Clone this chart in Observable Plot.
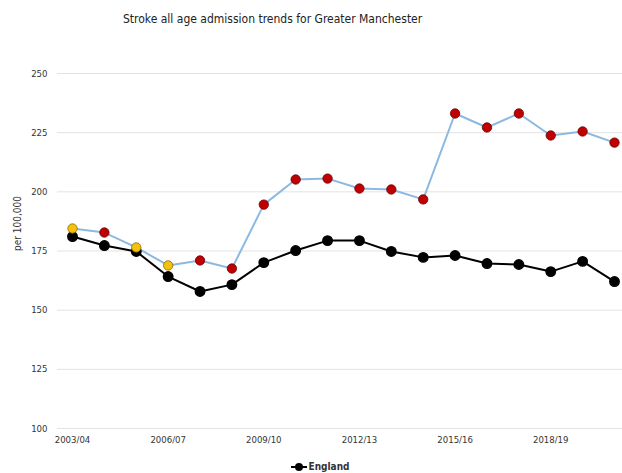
<!DOCTYPE html>
<html>
<head>
<meta charset="utf-8">
<script src="https://cdn.jsdelivr.net/npm/d3@7"></script>
<script src="https://cdn.jsdelivr.net/npm/@observablehq/plot@0.6"></script>
<style>
  body { margin: 0; background: #fff; font-family: "DejaVu Sans", sans-serif; }
  #title { height: 36px; width: 499px; padding-left: 123px; text-align: left; font-size: 12px; font-stretch: condensed; line-height: 38px; color: #222; white-space: nowrap; }
  #legend { width: 640px; text-align: center; font-size: 10px; font-weight: bold; font-stretch: condensed; color: #333; height: 23px; line-height: 33px; }
  #legend svg { vertical-align: middle; margin-right: 2px; }
</style>
</head>
<body>
<div id="title">Stroke all age admission trends for Greater Manchester</div>
<div id="chart"></div>
<div id="legend"><svg width="16" height="10"><line x1="0" y1="5" x2="16" y2="5" stroke="#000" stroke-width="2"/><circle cx="8" cy="5" r="4" fill="#000"/></svg>England</div>
<script>
const years = ["2003/04","2004/05","2005/06","2006/07","2007/08","2008/09","2009/10","2010/11","2011/12","2012/13","2013/14","2014/15","2015/16","2016/17","2017/18","2018/19","2019/20","2020/21"];
const gmValues = [184.5,182.8,176.5,168.9,171.0,167.6,194.6,205.2,205.6,201.4,201.0,196.8,233.1,227.2,233.1,223.8,225.5,220.8];
const gmSignificance = ["similar","higher","similar","similar","higher","higher","higher","higher","higher","higher","higher","higher","higher","higher","higher","higher","higher","higher"];
const englandValues = [181.1,177.3,174.8,164.2,157.9,160.8,170.1,175.2,179.4,179.4,174.8,172.3,173.1,169.7,169.3,166.3,170.6,162.1];
const xTickLabels = ["2003/04","2006/07","2009/10","2012/13","2015/16","2018/19"];
const yTicks = [100,125,150,175,200,225,250];

const gm = years.map((y, i) => ({year: y, value: gmValues[i], sig: gmSignificance[i]}));
const eng = years.map((y, i) => ({year: y, value: englandValues[i]}));

const chart = Plot.plot({
  width: 622,
  height: 414,
  marginLeft: 57,
  marginRight: 0,
  marginTop: 37,
  marginBottom: 22,
  style: {fontFamily: "DejaVu Sans, sans-serif", fontSize: "9.5px", fontStretch: "condensed", color: "#333", overflow: "visible"},
  x: {type: "point", domain: years, range: [72, 614], padding: 0, round: false},
  y: {domain: [100, 250]},
  color: {domain: ["similar","higher"], range: ["#f4c20d","#c00000"]},
  marks: [
    Plot.ruleY(yTicks, {stroke: "#e3e3e3", strokeWidth: 1}),
    Plot.axisY({ticks: yTicks, tickSize: 0, tickPadding: 10, label: null, fill: "#333"}),
    Plot.text(["per 100,000"], {frameAnchor: "left", dx: -40, rotate: -90, fill: "#333", fontSize: 10}),
    Plot.axisX({ticks: xTickLabels, tickSize: 0, tickPadding: 8, label: null, fill: "#333", anchor: "bottom"}),
    Plot.line(gm, {x: "year", y: "value", stroke: "#8cb9e1", strokeWidth: 2}),
    Plot.line(eng, {x: "year", y: "value", stroke: "#000", strokeWidth: 2}),
    Plot.dot(eng, {x: "year", y: "value", r: 4.7, fill: "#000", stroke: "#000"}),
    Plot.dot(gm, {x: "year", y: "value", r: 4.7, fill: "sig", stroke: d => d.sig === "similar" ? "#8a6a00" : "#6a0000", strokeWidth: 0.8})
  ]
});
document.getElementById("chart").appendChild(chart);
</script>
</body>
</html>
